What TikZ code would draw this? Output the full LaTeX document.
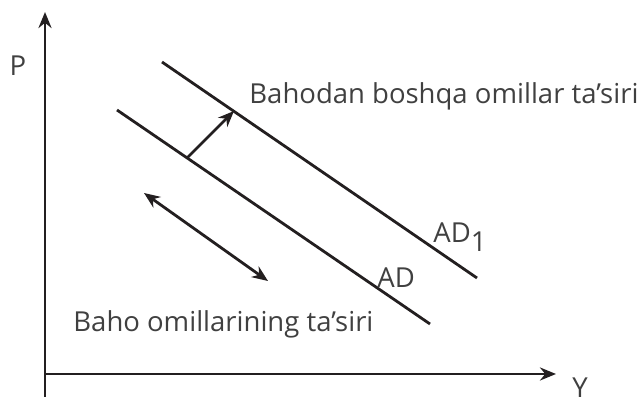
\documentclass[tikz,border=0pt]{standalone}
\usepackage{fontspec}
\setmainfont{Open Sans}
\usetikzlibrary{arrows.meta}
\definecolor{ink}{RGB}{35, 31, 32}
\definecolor{txt}{RGB}{64, 64, 64}

\begin{document}
\begin{tikzpicture}[x=1pt, y=-1pt, line width=2.8pt, color=ink,
  lbl/.style={text=txt, font=\fontsize{27.5}{32}\selectfont, inner sep=0pt},
  tip/.style={-{Stealth[length=16pt, width=13pt]}},
  tips/.style={{Stealth[length=16pt, width=13pt]}-{Stealth[length=16pt, width=13pt]}}]

  \useasboundingbox (0, 0) rectangle (638, 403);

  % axes
  \coordinate (O) at (45, 374);
  \coordinate (ytop) at (45, 12);
  \coordinate (ybot) at (45, 397);
  \coordinate (xend) at (556, 374);
  \draw[tip] (ybot) -- (ytop);
  \draw[tip] (O) -- (xend);
  \node[lbl, anchor=base] (P) at (18, 76) {P};
  \node[lbl, anchor=base] (Y) at (580, 398) {Y};

  % demand curves
  \coordinate (ad1s) at (162, 62);
  \coordinate (ad1e) at (477, 278);
  \coordinate (ads) at (117, 110);
  \coordinate (ade) at (430, 324);
  \draw (ad1s) -- (ad1e);
  \draw (ads) -- (ade);
  \node[lbl, anchor=base west] (AD1) at (432, 243) {AD\raisebox{-9pt}{1}};
  \node[lbl, anchor=base west] (AD) at (376, 288) {AD};

  % shift and movement
  \coordinate (sh0) at (187, 158);
  \coordinate (sh1) at (234, 111);
  \draw[tip] (sh0) -- (sh1);
  \coordinate (mv0) at (144, 193);
  \coordinate (mv1) at (268, 281);
  \draw[tips] (mv0) -- (mv1);

  \node[lbl, anchor=base west] (other) at (248, 104) {Bahodan boshqa omillar ta’siri};
  \node[lbl, anchor=base west] (price) at (72, 332) {Baho omillarining ta’siri};

\end{tikzpicture}
\end{document}
